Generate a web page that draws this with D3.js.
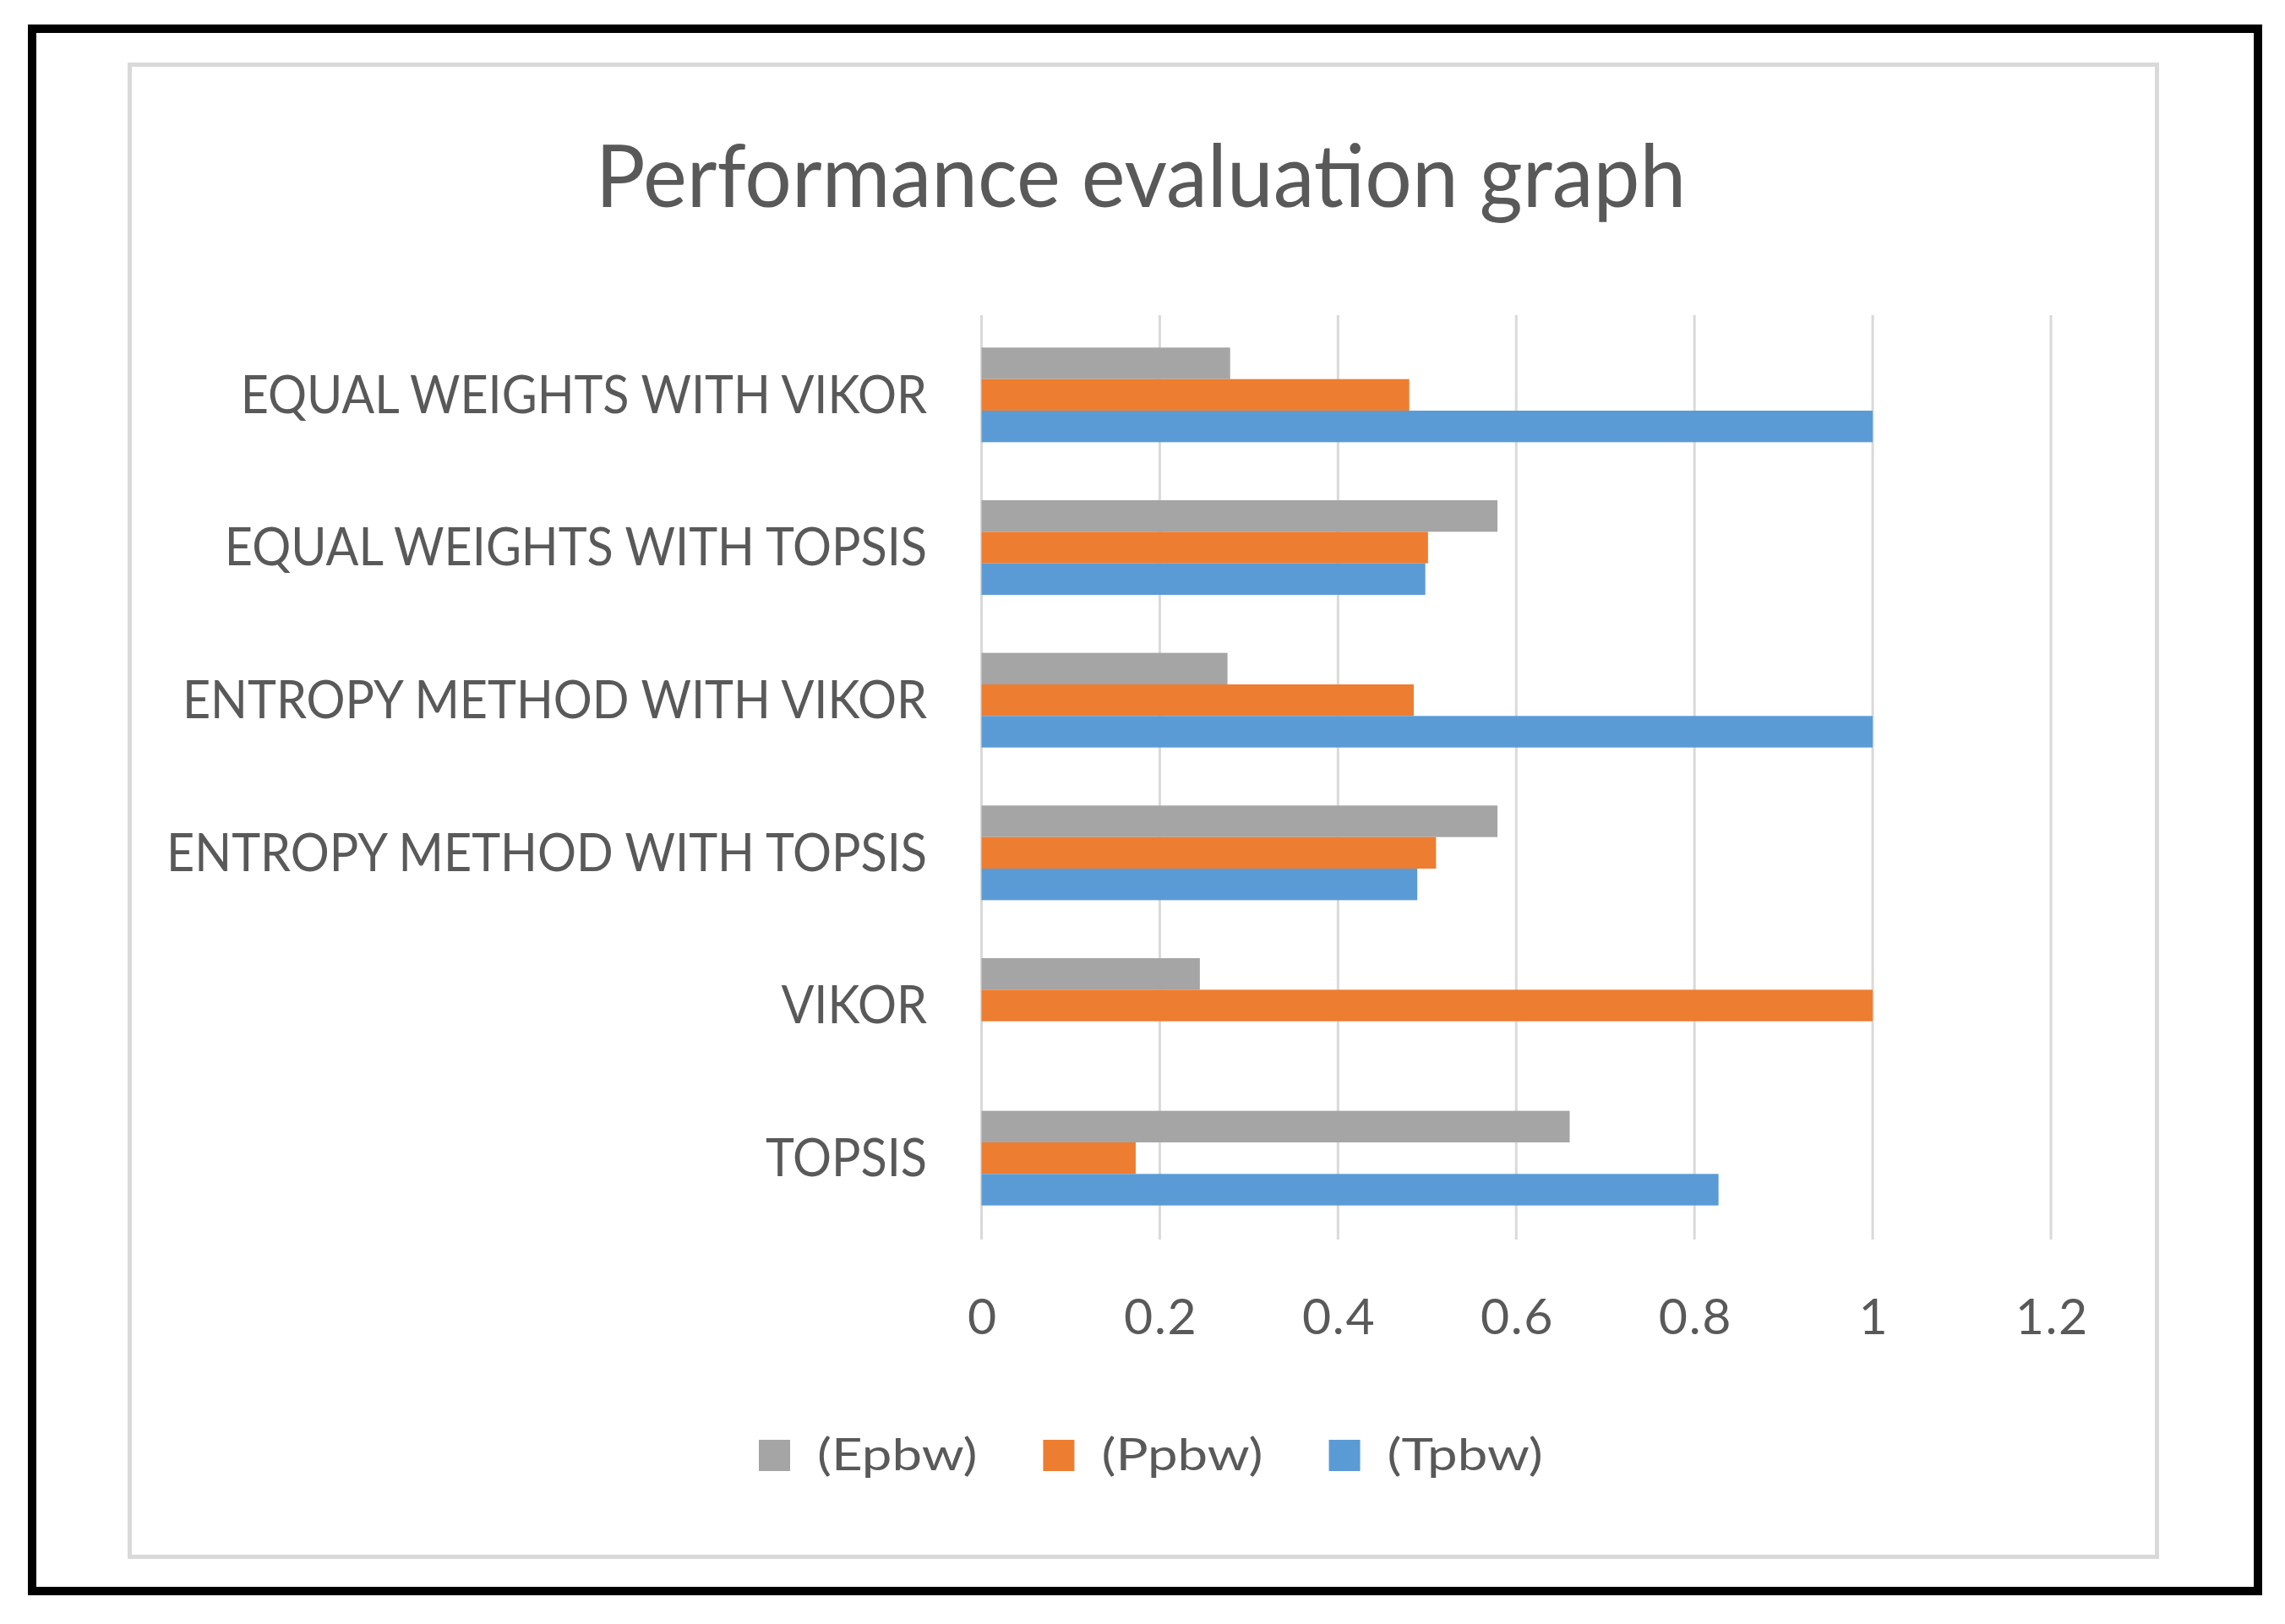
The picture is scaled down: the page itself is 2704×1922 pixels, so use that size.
<!DOCTYPE html>
<html>
<head>
<meta charset="utf-8">
<script src="https://cdn.jsdelivr.net/npm/d3@7"></script>
<style>
  html, body { margin: 0; padding: 0; background: #ffffff; }
  svg { display: block; }
  text { font-family: Lato, "Open Sans", "Noto Sans", sans-serif; fill: #595959; }
</style>
</head>
<body>
<svg id="chart" width="2704" height="1922"></svg>
<script>
// ---------------- data ----------------
const title = "Performance evaluation graph";
const categories = [
  "EQUAL WEIGHTS WITH VIKOR",
  "EQUAL WEIGHTS WITH TOPSIS",
  "ENTROPY METHOD WITH VIKOR",
  "ENTROPY METHOD WITH TOPSIS",
  "VIKOR",
  "TOPSIS"
];
const seriesNames = ["(Epbw)", "(Ppbw)", "(Tpbw)"];
const epbw = [0.279, 0.579, 0.276, 0.579, 0.245, 0.660];
const ppbw = [0.480, 0.501, 0.485, 0.510, 1.000, 0.173];
const tpbw = [1.000, 0.498, 1.000, 0.489, 0.000, 0.827];
const xTicks = [0, 0.2, 0.4, 0.6, 0.8, 1, 1.2];
const xTickLabels = ["0", "0.2", "0.4", "0.6", "0.8", "1", "1.2"];
const seriesColors = ["#a5a5a5", "#ed7d31", "#5b9bd5"];

// ---------------- build ----------------
const seriesValues = [epbw, ppbw, tpbw];
const rows = [];
categories.forEach((c, i) => {
  seriesNames.forEach((s, j) => rows.push({ cat: c, series: s, value: seriesValues[j][i], color: seriesColors[j] }));
});

const svg = d3.select("#chart");

// frames
svg.append("rect").attr("x", 38).attr("y", 34).attr("width", 2634).attr("height", 1849)
  .attr("fill", "none").attr("stroke", "#000").attr("stroke-width", 10);
svg.append("rect").attr("x", 153.5).attr("y", 76.5).attr("width", 2399).attr("height", 1766)
  .attr("fill", "#fff").attr("stroke", "#d9d9d9").attr("stroke-width", 5);

const x = d3.scaleLinear().domain([0, 1.2]).range([1161.5, 2427]);
const y = d3.scaleBand().domain(categories).range([377, 1461]).paddingInner(0).paddingOuter(0);
const step = y.bandwidth();
const ys = d3.scaleBand().domain(seriesNames).range([0.19 * step, 0.81 * step]).padding(0);

function squeeze(sel, k, mode) {
  sel.each(function () {
    const w = this.getComputedTextLength();
    d3.select(this).attr("textLength", w * k).attr("lengthAdjust", mode || "spacingAndGlyphs");
  });
}

// gridlines
svg.append("g").selectAll("line").data(xTicks).join("line")
  .attr("x1", d => x(d)).attr("x2", d => x(d))
  .attr("y1", 373).attr("y2", 1467)
  .attr("stroke", "#d9d9d9").attr("stroke-width", 3);

// bars
svg.append("g").selectAll("rect").data(rows.filter(r => r.value > 0)).join("rect")
  .attr("x", x(0))
  .attr("y", d => y(d.cat) + ys(d.series))
  .attr("width", d => x(d.value) - x(0))
  .attr("height", ys.bandwidth())
  .attr("fill", d => d.color);

// x axis labels
const xAxis = d3.axisBottom(x).tickValues(xTicks).tickFormat((d, i) => xTickLabels[i]).tickSize(0);
const gx = svg.append("g").attr("transform", "translate(0,1467)").call(xAxis);
gx.select(".domain").remove();
gx.selectAll("text").attr("font-size", 59).attr("dy", null).attr("y", 112)
  .style("font-family", "Lato, 'Open Sans', sans-serif").attr("fill", "#595959");
squeeze(gx.selectAll("text"), 1.04, "spacing");

// y axis labels
const yAxis = d3.axisLeft(y).tickSize(0).tickPadding(0);
const gy = svg.append("g").attr("transform", "translate(1097,0)").call(yAxis);
gy.select(".domain").remove();
gy.selectAll("text").attr("font-size", 61).attr("dy", "0.35em").attr("x", 0)
  .style("font-family", "Lato, 'Open Sans', sans-serif").attr("fill", "#595959");
squeeze(gy.selectAll("text"), 0.942);

// title
const t = svg.append("text").attr("x", 1350).attr("y", 245).attr("text-anchor", "middle")
  .attr("font-size", 102).text(title);
squeeze(t, 0.962);

// legend
const legend = svg.append("g");
let lx = 898;
seriesNames.forEach((s, j) => {
  legend.append("rect").attr("x", lx).attr("y", 1704).attr("width", 37).attr("height", 37).attr("fill", seriesColors[j]);
  const tx = legend.append("text").attr("x", lx + 69).attr("y", 1740).attr("font-size", 53).text(s);
  squeeze(tx, 1.2, "spacingAndGlyphs");
  const w = +tx.attr("textLength");
  lx = lx + 69 + w + 78;
});
</script>
</body>
</html>
